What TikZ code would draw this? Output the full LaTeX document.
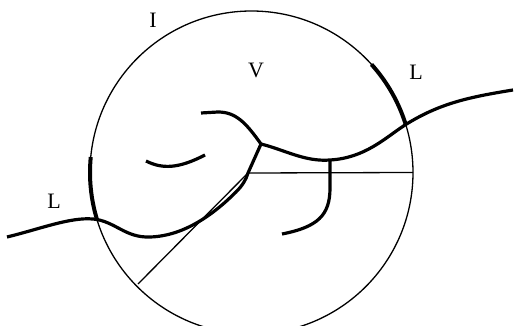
\documentclass[tikz,border=0pt]{standalone}
\usepackage{fontspec}
\setmainfont{Liberation Serif}
\begin{document}
\begin{tikzpicture}[x=1pt,y=-1pt,
  thin line/.style={line width=1.3pt},
  thick line/.style={line width=3.2pt},
  arc line/.style={line width=4pt},
  lbl/.style={font=\fontsize{22}{22}\selectfont, inner sep=0pt}]
\useasboundingbox (0,0) rectangle (515,326);
\coordinate (C) at (251.5,172.5);
\coordinate (J) at (261,144);
\coordinate (K) at (248,173);
\coordinate (B) at (330,160);
% circle
\draw[thin line] (C) circle[radius=161.5];
% thick arcs on circle (y axis flipped: angles negated)
\draw[arc line] (C) ++(-174.5:161.5) arc[start angle=-174.5, end angle=-197, radius=161.5];
\draw[arc line] (C) ++(-17:161.5) arc[start angle=-17, end angle=-42, radius=161.5];
% horizontal chord and diagonal
\draw[thin line] (K) -- (413,172.5);
\draw[thin line] (K) -- (138,284);
% main curve
\draw[thick line, line join=round] (7,237) .. controls (40,229) and (70,217) .. (93,219)
  .. controls (115,221) and (125,238) .. (150,237)
  .. controls (185,236) and (215,213) .. (236,192)
  .. controls (242,186) and (246,180) .. (K) -- (J);
\draw[thick line] (J) .. controls (285,150) and (305,162) .. (B)
  .. controls (365,158) and (385,138) .. (405,125)
  .. controls (440,103) and (470,97) .. (513,90);
\draw[thick line] (J) .. controls (246,123) and (236,112) .. (218,112) -- (201,113);
\draw[thick line] (B) -- (330,188) .. controls (330,215) and (318,227) .. (282,234);
\draw[thick line] (146,161) .. controls (162,169) and (178,169) .. (205,155);
% labels
\node[lbl] (tI) at (153,20) {I};
\node[lbl] (tV) at (256,70) {V};
\node[lbl] (tL1) at (416,72) {L};
\node[lbl] (tL2) at (54,201) {L};
\end{tikzpicture}
\end{document}
